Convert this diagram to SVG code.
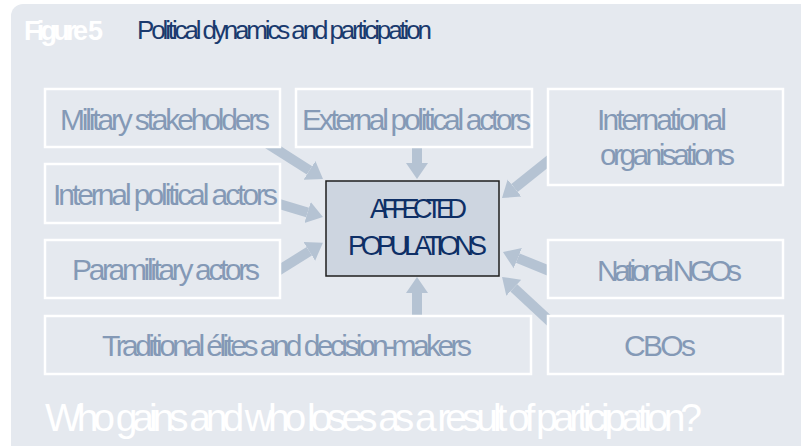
<svg xmlns="http://www.w3.org/2000/svg" width="801" height="446" viewBox="0 0 801 446">
  <style>
    .lbl { font-family: "Liberation Sans", Arial, sans-serif; font-size: 30px; fill: #8499b6; }
    .box { fill: #e5e9ef; stroke: #ffffff; stroke-width: 2.5; }
    .arr { stroke: #b5c3d3; stroke-width: 10; fill: none; marker-end: url(#head); }
    .ctr { font-family: "Liberation Sans", Arial, sans-serif; font-size: 27px; fill: #0e2f66; }
  </style>
  <defs>
    <marker id="head" markerUnits="userSpaceOnUse" markerWidth="18" markerHeight="24" viewBox="0 -12 18 24" refX="0" refY="0" orient="auto">
      <path d="M0,-11 L16,0 L0,11 z" fill="#b5c3d3"/>
    </marker>
  </defs>
  <rect x="0" y="0" width="801" height="446" fill="#ffffff"/>
  <rect x="11" y="4" width="810" height="460" rx="12" fill="#e5e9ef"/>
  <g id="title">
    <text x="24" y="40" font-family="Liberation Sans, Arial, sans-serif" font-weight="bold" font-size="27" fill="#ffffff" textLength="79" lengthAdjust="spacing">Figure 5</text>
    <text x="137" y="39" font-family="Liberation Sans, Arial, sans-serif" font-size="26" fill="#1a3a6e" textLength="295" lengthAdjust="spacing">Political dynamics and participation</text>
  </g>
  <g id="connectors">
    <line class="arr" x1="268" y1="144" x2="309.5" y2="170.4"/>
    <line class="arr" x1="276" y1="203" x2="307.6" y2="212.5"/>
    <line class="arr" x1="276" y1="272" x2="309.3" y2="251.3"/>
    <line class="arr" x1="417" y1="144" x2="417" y2="163"/>
    <line class="arr" x1="552" y1="158" x2="514.5" y2="188"/>
    <line class="arr" x1="552" y1="272" x2="517.8" y2="258.1"/>
    <line class="arr" x1="556" y1="327" x2="513.8" y2="287.8"/>
    <line class="arr" x1="417" y1="318" x2="417" y2="293"/>
  </g>
  <g id="military">
    <rect class="box" x="45" y="89" width="235" height="58"/>
    <text class="lbl" x="60" y="130" textLength="210" lengthAdjust="spacing">Military stakeholders</text>
  </g>
  <g id="external">
    <rect class="box" x="296" y="89" width="236" height="58"/>
    <text class="lbl" x="302" y="130" textLength="229" lengthAdjust="spacing">External political actors</text>
  </g>
  <g id="international">
    <rect class="box" x="548" y="89" width="235" height="96"/>
    <text class="lbl" x="597" y="130" textLength="130" lengthAdjust="spacing">International</text>
    <text class="lbl" x="600" y="165" textLength="135" lengthAdjust="spacing">organisations</text>
  </g>
  <g id="internal">
    <rect class="box" x="45" y="164" width="235" height="59"/>
    <text class="lbl" x="53" y="205" textLength="225" lengthAdjust="spacing">Internal political actors</text>
  </g>
  <g id="paramilitary">
    <rect class="box" x="45" y="240" width="235" height="58"/>
    <text class="lbl" x="72" y="280" textLength="188" lengthAdjust="spacing">Paramilitary actors</text>
  </g>
  <g id="ngos">
    <rect class="box" x="548" y="240" width="235" height="58"/>
    <text class="lbl" x="597" y="281" textLength="145" lengthAdjust="spacing">National NGOs</text>
  </g>
  <g id="traditional">
    <rect class="box" x="45" y="316" width="486" height="58"/>
    <text class="lbl" x="102" y="356" textLength="370" lengthAdjust="spacing">Traditional élites and decision-makers</text>
  </g>
  <g id="cbos">
    <rect class="box" x="548" y="316" width="235" height="58"/>
    <text class="lbl" x="624" y="356" textLength="72" lengthAdjust="spacing">CBOs</text>
  </g>
  <g id="affected">
    <rect x="326" y="181" width="173" height="95" fill="#cdd5e0" stroke="#1e1e1e" stroke-width="1.5"/>
    <text class="ctr" x="370" y="218" textLength="97" lengthAdjust="spacing">AFFECTED</text>
    <text class="ctr" x="348" y="255" textLength="139" lengthAdjust="spacing">POPULATIONS</text>
  </g>
  <g id="question">
    <text x="45" y="431" font-family="Liberation Sans, Arial, sans-serif" font-size="39" fill="#ffffff" textLength="657" lengthAdjust="spacing">Who gains and who loses as a result of participation?</text>
  </g>
</svg>
